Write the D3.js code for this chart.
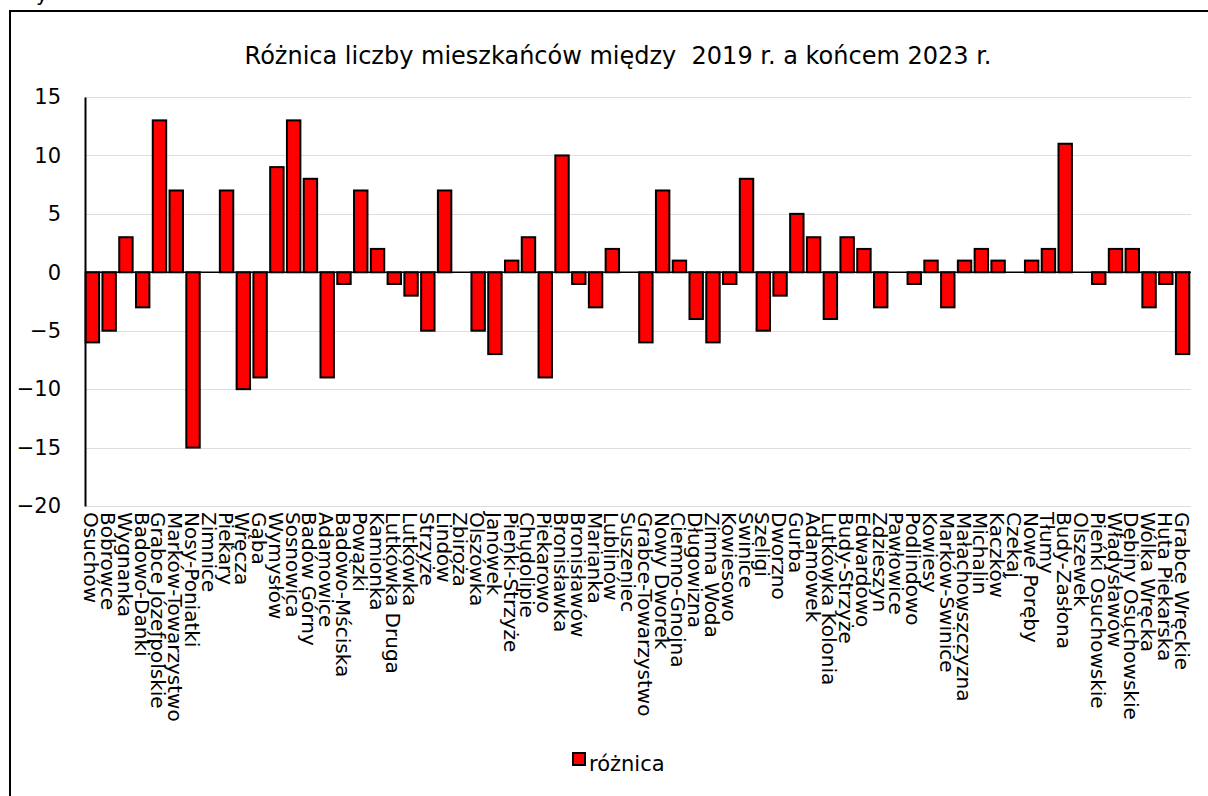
<!DOCTYPE html>
<html>
<head>
<meta charset="utf-8">
<script src="https://cdn.jsdelivr.net/npm/d3@7"></script>
<style>
  body { margin: 0; background: white; }
  svg { display: block; font-family: Tahoma, "DejaVu Sans", sans-serif; }
</style>
</head>
<body>
<svg id="chart"></svg>
<script>
var villages = ["Osuchów","Bobrowce","Wygnanka","Badowo-Dańki","Grabce Józefpolskie","Marków-Towarzystwo",
  "Nosy-Poniatki","Zimnice","Piekary","Wręcza","Gąba","Wymysłów","Sosnowica","Badów Górny","Adamowice",
  "Badowo-Mściska","Powązki","Kamionka","Lutkówka Druga","Lutkówka","Strzyże","Lindów","Zbiroża","Olszówka",
  "Janówek","Pieńki-Strzyże","Chudolipie","Piekarowo","Bronisławka","Bronisławów","Marianka","Lublinów",
  "Suszeniec","Grabce-Towarzystwo","Nowy Dworek","Ciemno-Gnojna","Długowizna","Zimna Woda","Kowiesowo",
  "Świnice","Szeligi","Dworzno","Gurba","Adamówek","Lutkówka Kolonia","Budy-Strzyże","Edwardowo","Zdzieszyn",
  "Pawłowice","Podlindowo","Kowiesy","Marków-Świnice","Małachowszczyzna","Michalin","Kaczków","Czekaj",
  "Nowe Poręby","Tłumy","Budy-Zasłona","Olszewek","Pieńki Osuchowskie","Władysławów","Dębiny Osuchowskie",
  "Wólka Wręcka","Huta Piekarska","Grabce Wręckie"];

var roznica = [-6,-5,3,-3,13,7,-15,0,7,-10,-9,9,13,8,-9,-1,7,2,-1,-2,-5,7,0,-5,-7,1,3,-9,10,-1,-3,2,0,-6,
  7,1,-4,-6,-1,8,-5,-2,5,3,-4,3,2,-3,0,-1,1,-3,1,2,1,0,1,2,11,0,-1,2,2,-3,-1,-7];

var yTicks = [15,10,5,0,-5,-10,-15,-20];

var title = "Różnica liczby mieszkańców między  2019 r. a końcem 2023 r.";
var seriesName = "różnica";

var width = 1208;
var height = 796;

var svg = d3.select("#chart")
    .attr("width", width)
    .attr("height", height);

// outer chart frame (runs past the right and bottom edge)
svg.append("rect")
    .attr("x", 10)
    .attr("y", 11)
    .attr("width", 1230)
    .attr("height", 820)
    .attr("fill", "white")
    .attr("stroke", "#000")
    .attr("stroke-width", 2);

// text above the frame, only its tail shows
svg.append("text")
    .attr("x", 36)
    .attr("y", 1)
    .attr("font-size", 20)
    .text("y");

var x = d3.scaleBand()
    .domain(villages)
    .range([84, 1191])
    .paddingInner(0.2)
    .paddingOuter(0.1);

var y = d3.scaleLinear()
    .domain([-20, 15])
    .range([506, 97]);

// gridlines
svg.append("g")
    .selectAll("line")
    .data(yTicks.filter(function(d){ return d != 0; }))
    .join("line")
      .attr("x1", 85)
      .attr("x2", 1191)
      .attr("y1", function(d){ return Math.round(y(d)) + 0.5; })
      .attr("y2", function(d){ return Math.round(y(d)) + 0.5; })
      .attr("stroke", "#dedede")
      .attr("stroke-width", 1);

// title
svg.append("text")
    .attr("x", 618)
    .attr("y", 64)
    .attr("text-anchor", "middle")
    .attr("font-size", 24)
    .attr("fill", "#000")
    .style("white-space", "pre")
    .text(title);

// y axis
var yAxis = svg.append("g")
    .attr("transform", "translate(85,0)")
    .call(d3.axisLeft(y).tickValues(yTicks).tickSize(0).tickPadding(24));
yAxis.select(".domain").attr("stroke", "#000").attr("stroke-width", 2);
yAxis.selectAll("text")
    .attr("font-size", 21)
    .attr("fill", "#000")
    .attr("font-family", "Tahoma, 'DejaVu Sans', sans-serif");

// bars
svg.append("g")
    .selectAll("rect")
    .data(roznica)
    .join("rect")
      .attr("x", function(d, i){ return x(villages[i]); })
      .attr("width", x.bandwidth())
      .attr("y", function(d){ return y(Math.max(0, d)); })
      .attr("height", function(d){ return Math.abs(y(d) - y(0)); })
      .attr("fill", "#ff0000")
      .attr("stroke", "#000")
      .attr("stroke-width", 2);

// zero line
svg.append("line")
    .attr("x1", 85)
    .attr("x2", 1191)
    .attr("y1", y(0))
    .attr("y2", y(0))
    .attr("stroke", "#000")
    .attr("stroke-width", 1.5);

// category labels, rotated
svg.append("g")
    .selectAll("text")
    .data(villages)
    .join("text")
      .attr("transform", function(d){
        return "translate(" + (x(d) + x.bandwidth()/2 - 8) + ",512) rotate(90)";
      })
      .attr("font-size", 20)
      .attr("fill", "#000")
      .text(function(d){ return d; });

// legend
svg.append("rect")
    .attr("x", 573)
    .attr("y", 753)
    .attr("width", 12)
    .attr("height", 12)
    .attr("fill", "#ff0000")
    .attr("stroke", "#000")
    .attr("stroke-width", 2);
svg.append("text")
    .attr("x", 589)
    .attr("y", 771)
    .attr("font-size", 21)
    .attr("fill", "#000")
    .text(seriesName);
</script>
</body>
</html>
